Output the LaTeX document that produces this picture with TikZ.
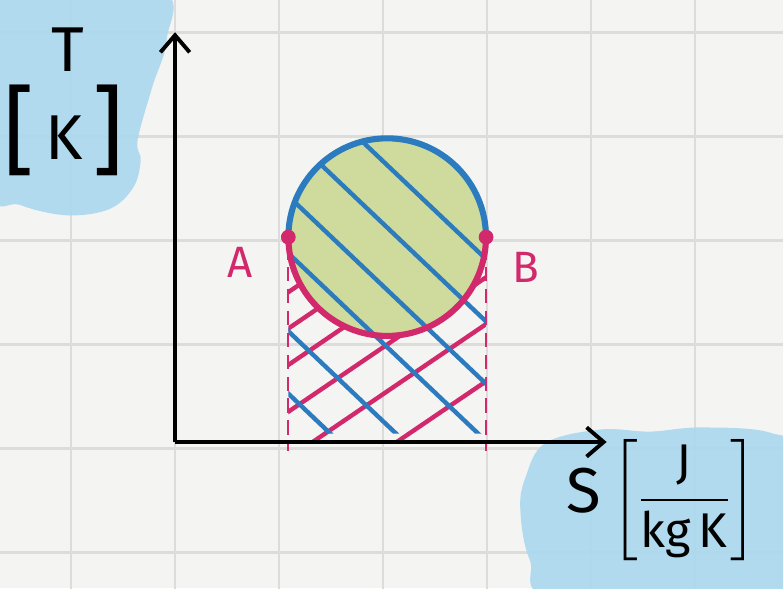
\documentclass[tikz,border=0pt]{standalone}
\usepackage{amsmath}
\usepackage{fontspec}
\setmainfont{Fira Sans}
\usetikzlibrary{arrows.meta}
\definecolor{paper}{HTML}{F4F4F2}
\definecolor{gridc}{HTML}{DCDCDA}
\definecolor{pinkc}{HTML}{D2286C}
\definecolor{bluec}{HTML}{2B7BBE}
\definecolor{greenc}{HTML}{CEDB9C}
\definecolor{blobc}{HTML}{AAD8EE}

\begin{document}
\begin{tikzpicture}[x=1.5cm, y=1.5cm,
    gridline/.style={draw=gridc, line width=1.2pt},
    blob/.style={fill=blobc, fill opacity=0.9, draw=none},
    axis/.style={draw=black, line width=1.6pt,
      -{Straight Barb[length=7pt, width=12pt, line width=1.6pt]}},
    hatchp/.style={draw=pinkc, line width=1.8pt, line cap=round},
    hatchb/.style={draw=bluec, line width=1.8pt, line cap=round},
    guide/.style={draw=pinkc, line width=0.9pt, dash pattern=on 6pt off 3pt},
    dot/.style={circle, fill=pinkc, inner sep=0pt, minimum size=6pt},
    lbl/.style={font=\fontsize{18}{18}\selectfont, text=pinkc},
    unit/.style={font=\fontsize{26}{26}\selectfont, inner sep=0pt}
  ]
    \useasboundingbox (-1.683,-1.404) rectangle (5.846,4.25);
    \clip (-1.683,-1.404) rectangle (5.846,4.25);
    \fill[paper] (-1.683,-1.404) rectangle (5.846,4.25);
    % squared paper
    \foreach \u in {-1,...,5} \draw[gridline] (\u,-1.5) -- (\u,4.3);
    \foreach \v in {-1,...,4} \draw[gridline] (-1.8,\v-0.06) -- (6,\v-0.06);
    % highlighter blobs
    \fill[blob] plot[smooth cycle, tension=0.6] coordinates {(-0.17,4.35) (-0.08,3.87)
      (-0.22,3.41) (-0.36,2.90) (-0.33,2.71) (-0.40,2.45) (-0.63,2.24) (-1.04,2.18)
      (-1.49,2.28) (-1.78,2.47) (-1.78,4.35)};
    \fill[blob] plot[smooth cycle, tension=0.6] coordinates {(3.37,-0.34) (3.56,-0.01)
      (4.09,0.12) (4.57,0.10) (5.05,0.14) (5.72,0.09) (6.0,-0.17) (6.0,-1.52)
      (3.70,-1.52) (3.41,-1.13) (3.32,-0.65)};
    \coordinate (O) at (0,0);
    \coordinate (CEN) at (2.04,1.97);
    \coordinate (TTIP) at (0,3.94);
    \coordinate (STIP) at (4.15,0);
    \coordinate (FOOT) at (0,-0.09);
    \node[dot] (A) at (1.09,1.97) {};
    \node[dot] (B) at (2.99,1.97) {};
    % work below the cycle
    \begin{scope}
      \clip (A.center) rectangle (B |- O);
      \foreach \b in {0.7,0.35,0,-0.45,-0.9,-1.45}
        \draw[hatchp] (1,0.68+\b) -- (3.1,2.108+\b);
    \end{scope}
    \fill[greenc] (CEN) circle[radius=0.95];
    % heat absorbed
    \begin{scope}
      \clip (B.center) arc[start angle=0, end angle=180, radius=0.95]
        -- (1.09,0.08) -- (2.99,0.08) -- cycle;
      \foreach \k in {4.6,4.0,3.4,2.85,2.1,1.5}
        \draw[hatchb] (1,\k-0.95) -- (3.1,\k-2.945);
    \end{scope}
    \draw[bluec, line width=2.5pt] (B.center) arc[start angle=0, end angle=180, radius=0.95];
    \draw[pinkc, line width=2.5pt] (A.center) arc[start angle=180, end angle=360, radius=0.95];
    \draw[guide] (A) -- (A |- FOOT);
    \draw[guide] (B) -- (B |- FOOT);
    \draw[axis] (O) -- (TTIP);
    \draw[axis] (O) -- (STIP);
    \node[dot] at (A) {};
    \node[dot] at (B) {};
    \node[lbl] (ALBL) at (0.63,1.73) {A};
    \node[lbl] (BLBL) at (3.37,1.68) {B};
    \node[unit] (TLBL) at (-1.03,3.77) {T};
    \node[unit] (KLBL) at (-1.07,3.0)
      {{\fontsize{40}{40}\selectfont[}\,\raisebox{2pt}{K}\,{\fontsize{40}{40}\selectfont]}};
    \node[unit] (SLBL) at (4.68,-0.56)
      {S\,{\fontsize{20}{20}\selectfont$\left[\dfrac{\text{J}}{\text{kg\,K}}\right]$}};
  \end{tikzpicture}
\end{document}
